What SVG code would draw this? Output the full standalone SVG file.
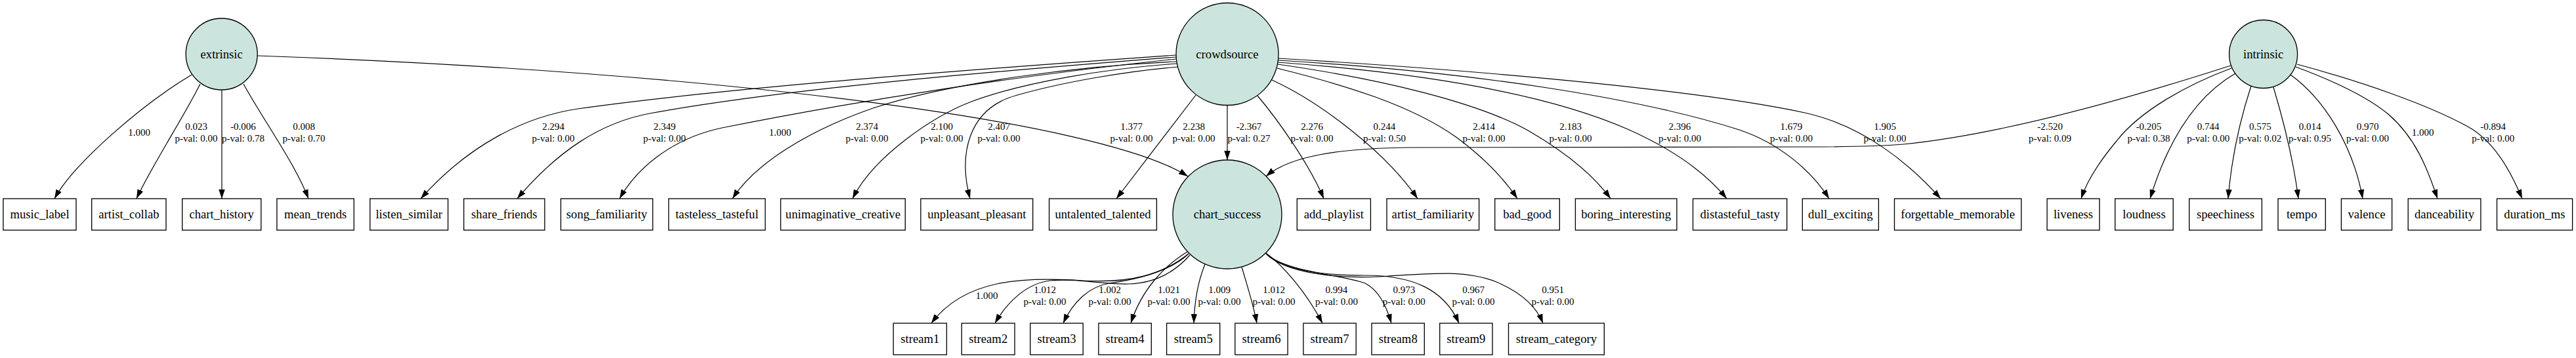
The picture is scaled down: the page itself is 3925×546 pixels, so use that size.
<svg xmlns="http://www.w3.org/2000/svg" width="3925" height="546" viewBox="0 0 3925 546">
<style>
.lat{fill:#cbe5de;stroke:#000;stroke-width:1.33}
.obs{fill:#fff;stroke:#000;stroke-width:1.33}
.nt{font-family:"Liberation Serif","Times New Roman",serif;font-size:18.67px;text-anchor:middle;fill:#000}
.el{font-family:"Liberation Serif","Times New Roman",serif;font-size:15px;text-anchor:middle;fill:#000}
.e{fill:none;stroke:#000;stroke-width:1.2;marker-end:url(#ah)}
</style>
<defs>
<marker id="ah" markerUnits="userSpaceOnUse" markerWidth="14" markerHeight="10" refX="14" refY="5" orient="auto" viewBox="0 0 14 10"><path d="M0,0.3 L14,5 L0,9.7 z" fill="#000"/></marker>
</defs>
<rect x="0" y="0" width="3925" height="546" fill="#fff"/>
<g id="connectors">
<path class="e" d="M292,114 C215,160 112,250 83,303"/>
<path class="e" d="M305,128 C282,175 230,255 208,303"/>
<path class="e" d="M338,137 L338,303"/>
<path class="e" d="M371,128 C398,178 450,250 470,303"/>
<path class="e" d="M392,85 C1100,110 1680,185 1810,269"/>
<path class="e" d="M1792,84 C1450,108 1100,135 880,166 C800,178 715,220 641,303"/>
<path class="e" d="M1792,87 C1500,110 1200,135 990,173 C915,187 850,230 788,303"/>
<path class="e" d="M1792,90 C1550,115 1300,155 1100,195 C1020,212 968,260 944,303"/>
<path class="e" d="M1793,94 C1650,100 1450,125 1330,165 C1230,200 1150,250 1116,303"/>
<path class="e" d="M1794,97 C1690,104 1560,125 1480,155 C1420,178 1330,240 1299,303"/>
<path class="e" d="M1795,102 C1720,108 1620,125 1550,145 C1475,165 1460,235 1478,303"/>
<path class="e" d="M1822,145 L1701,303"/>
<path class="e" d="M1870,161 L1870,244"/>
<path class="e" d="M1916,146 C1945,180 1995,250 2017,303"/>
<path class="e" d="M1938,122 C2010,155 2110,230 2160,303"/>
<path class="e" d="M1946,104 C2050,130 2150,160 2220,210 C2260,240 2290,270 2312,303"/>
<path class="e" d="M1947,98 C2100,120 2250,155 2330,200 C2390,235 2430,270 2454,303"/>
<path class="e" d="M1947,95 C2150,110 2350,140 2480,197 C2550,228 2600,265 2631,303"/>
<path class="e" d="M1948,92 C2250,110 2500,150 2650,198 C2710,218 2760,260 2787,303"/>
<path class="e" d="M1948,89 C2300,110 2600,140 2750,172 C2840,192 2910,250 2957,303"/>
<path class="e" d="M3399,100 C3250,148 3050,205 2900,220 C2850,224 2800,224 2750,224 L2150,225 C2040,226 1965,238 1929,269"/>
<path class="e" d="M3400,104 C3330,130 3260,170 3225,215 C3200,245 3180,275 3171,303"/>
<path class="e" d="M3406,112 C3340,150 3300,225 3276,303"/>
<path class="e" d="M3430,131 C3414,180 3400,240 3395,303"/>
<path class="e" d="M3464,133 C3478,180 3494,240 3502,303"/>
<path class="e" d="M3490,114 C3540,150 3585,220 3600,303"/>
<path class="e" d="M3498,102 C3560,125 3610,150 3640,175 C3680,210 3698,255 3714,303"/>
<path class="e" d="M3500,98 C3600,125 3700,160 3760,193 C3800,215 3825,260 3843,303"/>
<path class="e" d="M1811,387 C1770,420 1720,432 1650,428 C1560,422 1470,425 1419,493"/>
<path class="e" d="M1813,389 C1790,415 1760,432 1720,433 C1680,434 1640,424 1600,428 C1565,432 1535,460 1516,493"/>
<path class="e" d="M1811,387 C1785,412 1740,425 1690,432 C1660,437 1635,460 1620,493"/>
<path class="e" d="M1809,384 C1775,405 1740,440 1723,493"/>
<path class="e" d="M1836,403 C1825,430 1820,460 1819,493"/>
<path class="e" d="M1892,407 C1900,435 1910,465 1915,493"/>
<path class="e" d="M1929,386 C1955,405 1990,445 2015,493"/>
<path class="e" d="M1929,387 C1960,415 2040,418 2080,432 C2100,442 2112,465 2120,493"/>
<path class="e" d="M1930,388 C1960,412 2010,420 2080,420 C2150,420 2200,440 2223,493"/>
<path class="e" d="M1931,389 C1960,415 2030,425 2100,422 C2170,418 2230,410 2280,430 C2315,445 2340,465 2351,493"/>
</g>
<g id="edge-labels">
<text class="el" x="212" y="206.5">1.000</text>
<text class="el" x="299" y="197.5">0.023<tspan x="299" dy="18.5">p-val: 0.00</tspan></text>
<text class="el" x="370.5" y="197.5">-0.006<tspan x="370.5" dy="18.5">p-val: 0.78</tspan></text>
<text class="el" x="463" y="197.5">0.008<tspan x="463" dy="18.5">p-val: 0.70</tspan></text>
<text class="el" x="1724" y="197.5">1.377<tspan x="1724" dy="18.5">p-val: 0.00</tspan></text>
<text class="el" x="843" y="197.5">2.294<tspan x="843" dy="18.5">p-val: 0.00</tspan></text>
<text class="el" x="1012.5" y="197.5">2.349<tspan x="1012.5" dy="18.5">p-val: 0.00</tspan></text>
<text class="el" x="1188.6" y="206.5">1.000</text>
<text class="el" x="1321" y="197.5">2.374<tspan x="1321" dy="18.5">p-val: 0.00</tspan></text>
<text class="el" x="1435" y="197.5">2.100<tspan x="1435" dy="18.5">p-val: 0.00</tspan></text>
<text class="el" x="1522" y="197.5">2.407<tspan x="1522" dy="18.5">p-val: 0.00</tspan></text>
<text class="el" x="1819" y="197.5">2.238<tspan x="1819" dy="18.5">p-val: 0.00</tspan></text>
<text class="el" x="1903" y="197.5">-2.367<tspan x="1903" dy="18.5">p-val: 0.27</tspan></text>
<text class="el" x="1999" y="197.5">2.276<tspan x="1999" dy="18.5">p-val: 0.00</tspan></text>
<text class="el" x="2109.4" y="197.5">0.244<tspan x="2109.4" dy="18.5">p-val: 0.50</tspan></text>
<text class="el" x="2261" y="197.5">2.414<tspan x="2261" dy="18.5">p-val: 0.00</tspan></text>
<text class="el" x="2393" y="197.5">2.183<tspan x="2393" dy="18.5">p-val: 0.00</tspan></text>
<text class="el" x="2559.4" y="197.5">2.396<tspan x="2559.4" dy="18.5">p-val: 0.00</tspan></text>
<text class="el" x="2729.4" y="197.5">1.679<tspan x="2729.4" dy="18.5">p-val: 0.00</tspan></text>
<text class="el" x="2872" y="197.5">1.905<tspan x="2872" dy="18.5">p-val: 0.00</tspan></text>
<text class="el" x="3123.6" y="197.5">-2.520<tspan x="3123.6" dy="18.5">p-val: 0.09</tspan></text>
<text class="el" x="3274" y="197.5">-0.205<tspan x="3274" dy="18.5">p-val: 0.38</tspan></text>
<text class="el" x="3364.7" y="197.5">0.744<tspan x="3364.7" dy="18.5">p-val: 0.00</tspan></text>
<text class="el" x="3443.8" y="197.5">0.575<tspan x="3443.8" dy="18.5">p-val: 0.02</tspan></text>
<text class="el" x="3519.6" y="197.5">0.014<tspan x="3519.6" dy="18.5">p-val: 0.95</tspan></text>
<text class="el" x="3607.6" y="197.5">0.970<tspan x="3607.6" dy="18.5">p-val: 0.00</tspan></text>
<text class="el" x="3691.5" y="206.5">1.000</text>
<text class="el" x="3798.7" y="197.5">-0.894<tspan x="3798.7" dy="18.5">p-val: 0.00</tspan></text>
<text class="el" x="1503.6" y="456">1.000</text>
<text class="el" x="1592" y="446.7">1.012<tspan x="1592" dy="18.5">p-val: 0.00</tspan></text>
<text class="el" x="1691" y="446.7">1.002<tspan x="1691" dy="18.5">p-val: 0.00</tspan></text>
<text class="el" x="1781" y="446.7">1.021<tspan x="1781" dy="18.5">p-val: 0.00</tspan></text>
<text class="el" x="1858" y="446.7">1.009<tspan x="1858" dy="18.5">p-val: 0.00</tspan></text>
<text class="el" x="1941" y="446.7">1.012<tspan x="1941" dy="18.5">p-val: 0.00</tspan></text>
<text class="el" x="2036.4" y="446.7">0.994<tspan x="2036.4" dy="18.5">p-val: 0.00</tspan></text>
<text class="el" x="2139.3" y="446.7">0.973<tspan x="2139.3" dy="18.5">p-val: 0.00</tspan></text>
<text class="el" x="2245" y="446.7">0.967<tspan x="2245" dy="18.5">p-val: 0.00</tspan></text>
<text class="el" x="2366" y="446.7">0.951<tspan x="2366" dy="18.5">p-val: 0.00</tspan></text>
</g>
<g id="extrinsic"><circle class="lat" cx="337.7" cy="82.5" r="54.5"/><text class="nt" x="337.7" y="88.5">extrinsic</text></g>
<g id="crowdsource"><circle class="lat" cx="1870" cy="82.5" r="78"/><text class="nt" x="1870" y="88.5">crowdsource</text></g>
<g id="intrinsic"><circle class="lat" cx="3448.6" cy="82.5" r="52"/><text class="nt" x="3448.6" y="88.5">intrinsic</text></g>
<g id="chart_success"><circle class="lat" cx="1870" cy="327" r="83"/><text class="nt" x="1870" y="333">chart_success</text></g>
<g id="music_label"><rect class="obs" x="4.9" y="303" width="111.1" height="48"/><text class="nt" x="60.5" y="333">music_label</text></g>
<g id="artist_collab"><rect class="obs" x="139.7" y="303" width="113.3" height="48"/><text class="nt" x="196.4" y="333">artist_collab</text></g>
<g id="chart_history"><rect class="obs" x="277.7" y="303" width="120.1" height="48"/><text class="nt" x="337.7" y="333">chart_history</text></g>
<g id="mean_trends"><rect class="obs" x="421.9" y="303" width="117.4" height="48"/><text class="nt" x="480.6" y="333">mean_trends</text></g>
<g id="listen_similar"><rect class="obs" x="563.8" y="303" width="118.8" height="48"/><text class="nt" x="623.2" y="333">listen_similar</text></g>
<g id="share_friends"><rect class="obs" x="706.7" y="303" width="123.2" height="48"/><text class="nt" x="768.3" y="333">share_friends</text></g>
<g id="song_familiarity"><rect class="obs" x="854.5" y="303" width="140.1" height="48"/><text class="nt" x="924.5" y="333">song_familiarity</text></g>
<g id="tasteless_tasteful"><rect class="obs" x="1018.8" y="303" width="147.2" height="48"/><text class="nt" x="1092.4" y="333">tasteless_tasteful</text></g>
<g id="unimaginative_creative"><rect class="obs" x="1189.5" y="303" width="189.8" height="48"/><text class="nt" x="1284.4" y="333">unimaginative_creative</text></g>
<g id="unpleasant_pleasant"><rect class="obs" x="1402.9" y="303" width="170.8" height="48"/><text class="nt" x="1488.3" y="333">unpleasant_pleasant</text></g>
<g id="untalented_talented"><rect class="obs" x="1598.6" y="303" width="163.8" height="48"/><text class="nt" x="1680.5" y="333">untalented_talented</text></g>
<g id="add_playlist"><rect class="obs" x="1976.3" y="303" width="112.1" height="48"/><text class="nt" x="2032.3" y="333">add_playlist</text></g>
<g id="artist_familiarity"><rect class="obs" x="2113" y="303" width="140.6" height="48"/><text class="nt" x="2183.3" y="333">artist_familiarity</text></g>
<g id="bad_good"><rect class="obs" x="2277.7" y="303" width="98.6" height="48"/><text class="nt" x="2327" y="333">bad_good</text></g>
<g id="boring_interesting"><rect class="obs" x="2400.4" y="303" width="154.5" height="48"/><text class="nt" x="2477.6" y="333">boring_interesting</text></g>
<g id="distasteful_tasty"><rect class="obs" x="2579.5" y="303" width="143.2" height="48"/><text class="nt" x="2651.1" y="333">distasteful_tasty</text></g>
<g id="dull_exciting"><rect class="obs" x="2746.3" y="303" width="116.1" height="48"/><text class="nt" x="2804.3" y="333">dull_exciting</text></g>
<g id="forgettable_memorable"><rect class="obs" x="2886.5" y="303" width="193.3" height="48"/><text class="nt" x="2983.1" y="333">forgettable_memorable</text></g>
<g id="liveness"><rect class="obs" x="3119.1" y="303" width="79.9" height="48"/><text class="nt" x="3159" y="333">liveness</text></g>
<g id="loudness"><rect class="obs" x="3222.7" y="303" width="88.5" height="48"/><text class="nt" x="3267" y="333">loudness</text></g>
<g id="speechiness"><rect class="obs" x="3335.7" y="303" width="110.7" height="48"/><text class="nt" x="3391" y="333">speechiness</text></g>
<g id="tempo"><rect class="obs" x="3471" y="303" width="72.3" height="48"/><text class="nt" x="3507.2" y="333">tempo</text></g>
<g id="valence"><rect class="obs" x="3567.4" y="303" width="77.2" height="48"/><text class="nt" x="3606" y="333">valence</text></g>
<g id="danceability"><rect class="obs" x="3669.2" y="303" width="110.7" height="48"/><text class="nt" x="3724.5" y="333">danceability</text></g>
<g id="duration_ms"><rect class="obs" x="3804.5" y="303" width="115.1" height="48"/><text class="nt" x="3862" y="333">duration_ms</text></g>
<g id="stream1"><rect class="obs" x="1361.2" y="493" width="81.2" height="48"/><text class="nt" x="1401.8" y="523">stream1</text></g>
<g id="stream2"><rect class="obs" x="1465.3" y="493" width="80.8" height="48"/><text class="nt" x="1505.7" y="523">stream2</text></g>
<g id="stream3"><rect class="obs" x="1569.8" y="493" width="80.4" height="48"/><text class="nt" x="1610" y="523">stream3</text></g>
<g id="stream4"><rect class="obs" x="1673.9" y="493" width="80.4" height="48"/><text class="nt" x="1714.1" y="523">stream4</text></g>
<g id="stream5"><rect class="obs" x="1777.6" y="493" width="81.1" height="48"/><text class="nt" x="1818.2" y="523">stream5</text></g>
<g id="stream6"><rect class="obs" x="1881.8" y="493" width="80.3" height="48"/><text class="nt" x="1922" y="523">stream6</text></g>
<g id="stream7"><rect class="obs" x="1985.9" y="493" width="80.3" height="48"/><text class="nt" x="2026" y="523">stream7</text></g>
<g id="stream8"><rect class="obs" x="2090" y="493" width="80.3" height="48"/><text class="nt" x="2130.2" y="523">stream8</text></g>
<g id="stream9"><rect class="obs" x="2193.7" y="493" width="80.3" height="48"/><text class="nt" x="2233.9" y="523">stream9</text></g>
<g id="stream_category"><rect class="obs" x="2298.5" y="493" width="145.8" height="48"/><text class="nt" x="2371.4" y="523">stream_category</text></g>
</svg>
